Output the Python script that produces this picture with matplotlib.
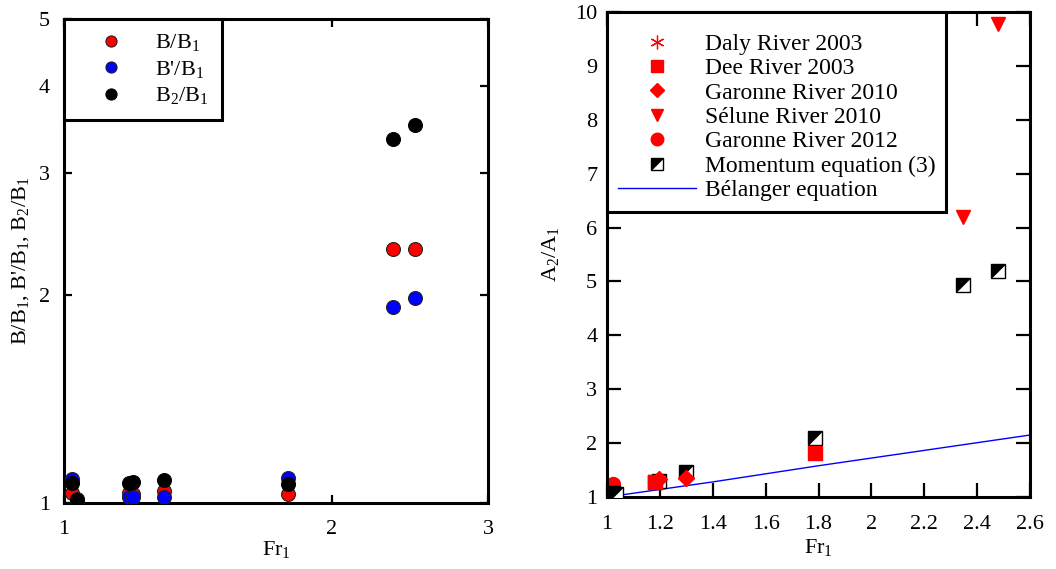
import matplotlib
matplotlib.use("Agg")
import matplotlib.pyplot as plt
from matplotlib.path import Path
from matplotlib.legend_handler import HandlerTuple
from matplotlib.ticker import NullLocator, FixedLocator, FixedFormatter

plt.rcParams['font.family'] = ['Liberation Serif', 'DejaVu Serif']
plt.rcParams['mathtext.fontset'] = 'custom'
plt.rcParams['mathtext.rm'] = 'Liberation Serif'
plt.rcParams['mathtext.it'] = 'Liberation Serif:italic'

# ---------------- data: left panel ----------------
fr_left = [1.022, 1.034, 1.182, 1.197, 1.297, 1.788, 2.346, 2.48]
b_b1 = [1.035, 1.012, 1.033, 1.030, 1.042, 1.029, 2.33, 2.33]
bp_b1 = [1.082, 1.000, 1.020, 1.021, 1.019, 1.086, 1.92, 1.98]
b2_b1 = [1.068, 1.010, 1.070, 1.073, 1.080, 1.064, 3.36, 3.52]
left_xticks = [1, 2, 3]
left_yticks = [1, 2, 3, 4, 5]

# ---------------- data: right panel ----------------
daly_x, daly_y = [1.034], [1.06]
dee_x, dee_y = [1.182, 1.788], [1.27, 1.81]
gar10_x, gar10_y = [1.197, 1.297], [1.33, 1.35]
sel_x, sel_y = [2.346, 2.48], [6.20, 9.78]
gar12_x, gar12_y = [1.022], [1.25]
mom_x = [1.022, 1.034, 1.182, 1.197, 1.297, 1.788, 2.346, 2.48]
mom_y = [1.08, 1.05, 1.28, 1.29, 1.47, 2.09, 4.93, 5.19]
bel_x = [1.0, 1.4, 1.8, 2.6]
bel_y = [1.00, 1.28, 1.58, 2.15]
right_xticks = [1, 1.2, 1.4, 1.6, 1.8, 2, 2.2, 2.4, 2.6]
right_xlabels = ['1', '1.2', '1.4', '1.6', '1.8', '2', '2.2', '2.4', '2.6']
right_yticks = list(range(1, 11))

FS = 16
LFS = 17

fig = plt.figure(figsize=(10.56, 5.69), dpi=100)
axL = fig.add_axes([64/1056, 66/569, 424/1056, 484/569])
axR = fig.add_axes([607/1056, 72/569, 423/1056, 485/569])

# ---------------- left panel ----------------
ms = 10
axL.plot(fr_left, b_b1, 'o', ms=ms, mfc='#ff0000', mec='#222222', mew=0.8,
         label=r'B/B$_1$', zorder=3)
axL.plot(fr_left, bp_b1, 'o', ms=ms, mfc='#0000ff', mec='#222222', mew=0.8,
         label=r"B'/B$_1$", zorder=3)
axL.plot(fr_left, b2_b1, 'o', ms=ms, mfc='#000000', mec='#000000', mew=0.8,
         label=r'B$_2$/B$_1$', zorder=3)
axL.set_xscale('log')
axL.set_yscale('log')
axL.set_xlim(1, 3)
axL.set_ylim(1, 5)
axL.xaxis.set_major_locator(FixedLocator(left_xticks))
axL.xaxis.set_major_formatter(FixedFormatter([str(t) for t in left_xticks]))
axL.yaxis.set_major_locator(FixedLocator(left_yticks))
axL.yaxis.set_major_formatter(FixedFormatter([str(t) for t in left_yticks]))
axL.xaxis.set_minor_locator(NullLocator())
axL.yaxis.set_minor_locator(NullLocator())
axL.tick_params(which='major', direction='in', length=6, width=1.6,
                top=True, right=True, labelsize=FS, pad=10)
axL.tick_params(axis='x', pad=12)
axL.set_xlabel(r'Fr$_1$', fontsize=FS, labelpad=0)
axL.set_ylabel(r"B/B$_1$, B'/B$_1$, B$_2$/B$_1$", fontsize=FS, labelpad=6)
for s in axL.spines.values():
    s.set_linewidth(2.2)
legL = axL.legend(loc='upper left', borderaxespad=0, fontsize=FS,
                  fancybox=False, framealpha=1, edgecolor='black',
                  handlelength=3.0, handletextpad=0.5, borderpad=0.6,
                  labelspacing=0.25, numpoints=1, markerscale=0.8)
legL.get_frame().set_linewidth(2.2)

# ---------------- right panel ----------------
tri = Path([(-1, -1), (-1, 1), (1, 1), (-1, -1)],
           [Path.MOVETO, Path.LINETO, Path.LINETO, Path.CLOSEPOLY])
msR = 10
h_daly, = axR.plot(daly_x, daly_y, ls='none', marker=(6, 2, 0), ms=11,
                   mec='#ff0000', mew=0.9, zorder=2)
h_g12, = axR.plot(gar12_x, gar12_y, ls='none', marker='o', ms=msR,
                  mfc='#ff0000', mec='#ff0000', zorder=2)
h_sq, = axR.plot(mom_x, mom_y, ls='none', marker='s', ms=msR, mfc='white',
                 mec='black', mew=1.0, zorder=3)
h_tri, = axR.plot(mom_x, mom_y, ls='none', marker=tri, ms=msR, mfc='black',
                  mec='black', mew=0.5, zorder=3)
h_dee, = axR.plot(dee_x, dee_y, ls='none', marker='s', ms=msR,
                  mfc='#ff0000', mec='#ff0000', zorder=4)
h_g10, = axR.plot(gar10_x, gar10_y, ls='none', marker='D', ms=8,
                  mfc='#ff0000', mec='#ff0000', zorder=4)
h_sel, = axR.plot(sel_x, sel_y, ls='none', marker='v', ms=msR,
                  mfc='#ff0000', mec='#ff0000', zorder=4)
h_bel, = axR.plot(bel_x, bel_y, '-', color='#0000ff', lw=1.0, zorder=2)
axR.set_xlim(1, 2.6)
axR.set_ylim(1, 10)
axR.set_xticks(right_xticks)
axR.set_xticklabels(right_xlabels)
axR.set_yticks(right_yticks)
axR.tick_params(which='major', direction='in', length=10, width=1.6,
                top=True, right=True, labelsize=FS, pad=7)
axR.tick_params(axis='x', pad=13)
axR.set_xlabel(r'Fr$_1$', fontsize=FS, labelpad=2)
axR.set_ylabel(r'A$_2$/A$_1$', fontsize=FS, labelpad=10)
for s in axR.spines.values():
    s.set_linewidth(2.2)

handles = [h_daly, h_dee, h_g10, h_sel, h_g12, (h_sq, h_tri), h_bel]
labels = ['Daly River 2003', 'Dee River 2003', 'Garonne River 2010',
          'Sélune River 2010', 'Garonne River 2012', 'Momentum equation (3)',
          'Bélanger equation']
legR = axR.legend(handles, labels, loc='upper left', borderaxespad=0,
                  fontsize=LFS, fancybox=False, framealpha=1, edgecolor='black',
                  handlelength=3.3, handletextpad=0.4, borderpad=0.45,
                  labelspacing=0.12, numpoints=1, markerscale=0.9,
                  title=' ', title_fontsize=6,
                  handler_map={tuple: HandlerTuple(ndivide=1, pad=0)})
legR.get_frame().set_linewidth(2.2)
legR.set_zorder(5)

fig.savefig('out.png', dpi=100)
